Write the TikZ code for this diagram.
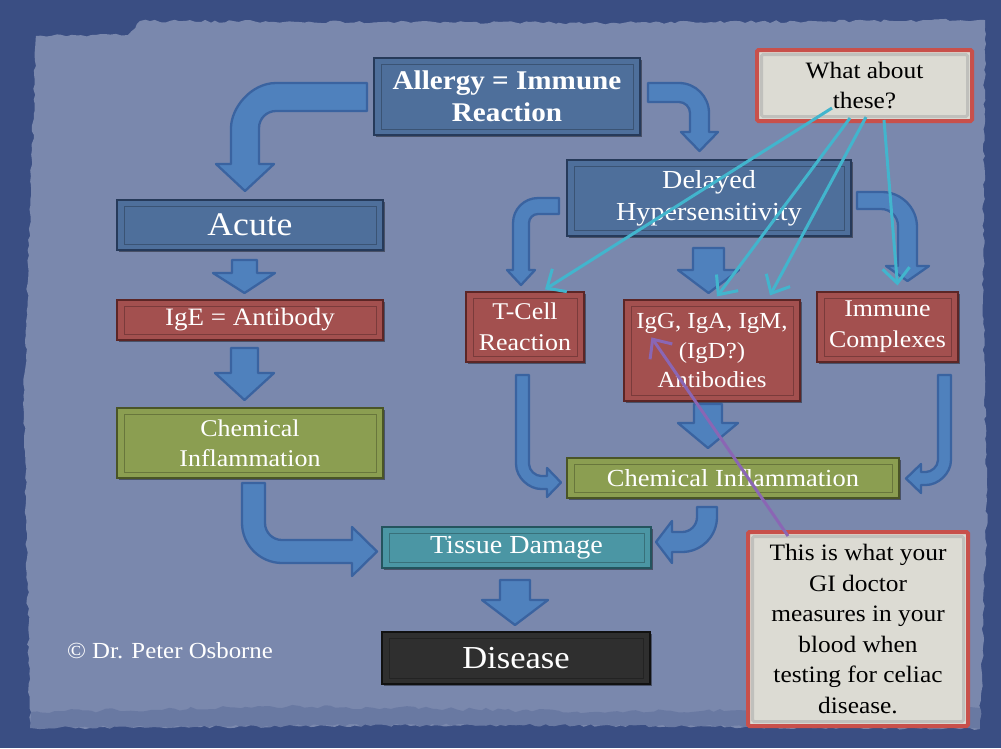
\documentclass[tikz,border=0pt]{standalone}
\usepackage{fontspec}
\setmainfont{Liberation Serif}[FakeStretch=1.08]
\usetikzlibrary{arrows.meta,shadows,decorations.pathmorphing}
\definecolor{bgOuter}{HTML}{3A4E83}
\definecolor{bgInner}{HTML}{7A88AD}
\definecolor{blueF}{HTML}{4E6F9B}
\definecolor{blueD}{HTML}{263A5A}
\definecolor{redF}{HTML}{A3504F}
\definecolor{redD}{HTML}{5C2626}
\definecolor{greenF}{HTML}{8B9E51}
\definecolor{greenD}{HTML}{4A5526}
\definecolor{tealF}{HTML}{4B96A4}
\definecolor{tealD}{HTML}{24545E}
\definecolor{darkF}{HTML}{2F2F2F}
\definecolor{darkD}{HTML}{111111}
\definecolor{arrowF}{HTML}{4F81BD}
\definecolor{arrowD}{HTML}{3A63A0}
\definecolor{cyanL}{HTML}{42B5CD}
\definecolor{purpleL}{HTML}{8A66B4}
\definecolor{calloutR}{HTML}{C8504B}
\definecolor{calloutF}{HTML}{DCDBD3}
\begin{document}
\begin{tikzpicture}[x=1pt,y=-1pt,
  boxbase/.style={rectangle, inner sep=0pt, text=white, align=center, line width=1.2pt,
    drop shadow={shadow xshift=2pt, shadow yshift=-2pt, opacity=0.4, fill=black},
    path picture={\draw[draw=black, opacity=0.25, line width=0.6pt]
      ([xshift=7pt,yshift=-6pt]path picture bounding box.north west) rectangle
      ([xshift=-7pt,yshift=6pt]path picture bounding box.south east);}},
  bluebox/.style={boxbase, fill=blueF, draw=blueD},
  redbox/.style={boxbase, fill=redF, draw=redD},
  greenbox/.style={boxbase, fill=greenF, draw=greenD},
  tealbox/.style={boxbase, fill=tealF, draw=tealD},
  darkbox/.style={boxbase, fill=darkF, draw=darkD},
  callout/.style={rectangle, inner sep=0pt, align=center, text=black, fill=calloutF,
    draw=calloutR, line width=4pt, rounded corners=1.5pt,
    path picture={\draw[draw=gray!70, opacity=0.5, line width=3pt]
      ([xshift=4.5pt,yshift=-4.5pt]path picture bounding box.north west) rectangle
      ([xshift=-4.5pt,yshift=4.5pt]path picture bounding box.south east);}},
  blockarrow/.style={fill=arrowF, draw=arrowD, line width=2.3pt, line join=round},
  cyanline/.style={draw=cyanL, line width=3pt, -{Straight Barb[length=15pt,width=27pt]}},
  purpleline/.style={draw=purpleL, line width=3pt, -{Straight Barb[length=15pt,width=27pt]}}
]
\useasboundingbox (0,0) rectangle (1001,748);
% background
\fill[bgOuter] (0,0) rectangle (1001,748);
\pgfmathsetseed{7}
\fill[bgInner, decorate, decoration={random steps, segment length=5pt, amplitude=1.4pt}]
  (36,36) -- (128,35) -- (140,21) -- (600,23) -- (985,20) -- (983,300) -- (987,500)
  -- (980,729) -- (500,725) -- (30,728) -- (24,400) -- (32,150) -- cycle;
\fill[bgOuter, opacity=0.25, decorate, decoration={random steps, segment length=6pt, amplitude=2pt}]
  (30,712) -- (300,706) -- (600,712) -- (980,708) -- (980,729) -- (500,725) -- (30,728) -- cycle;

% block arrows
% A: allergy -> acute
\path[blockarrow] (367,83) -- (276,83) .. controls (251,83) and (231,108) .. (231,128)
  -- (231,164) -- (216,164) -- (245,191) -- (274,164) -- (259,164) -- (259,128)
  .. controls (259,118.6) and (266.6,111) .. (276,111) -- (367,111) -- cycle;
% B: allergy -> delayed
\path[blockarrow] (648,83) -- (679,83) .. controls (695.5,83) and (709,96.5) .. (709,113)
  -- (709,132) -- (718,132) -- (699.5,151) -- (681,132) -- (690,132) -- (690,113)
  .. controls (690,107) and (685,102) .. (679,102) -- (648,102) -- cycle;
% C: delayed -> tcell
\path[blockarrow] (559,198) -- (538,198) .. controls (524.2,198) and (513,209.2) .. (513,223)
  -- (513,270) -- (507,270) -- (521,285) -- (535,270) -- (529,270) -- (529,223)
  .. controls (529,218) and (533,214) .. (538,214) -- (559,214) -- cycle;
% D: delayed -> igg
\path[blockarrow] (693,248) -- (724,248) -- (724,270) -- (739,270) -- (708.5,293)
  -- (678,270) -- (693,270) -- cycle;
% E: delayed -> immune
\path[blockarrow] (857,192) -- (882,192) .. controls (901.3,192) and (917,207.7) .. (917,227)
  -- (917,266) -- (929,266) -- (907.5,281) -- (886,266) -- (898,266) -- (898,226)
  .. controls (898,216.6) and (890.4,209) .. (881,209) -- (857,209) -- cycle;
% F: acute -> ige
\path[blockarrow] (232,260) -- (257,260) -- (257,273) -- (275,273) -- (244.5,293)
  -- (213,273) -- (232,273) -- cycle;
% G: ige -> chemL
\path[blockarrow] (231,348) -- (258,348) -- (258,373) -- (274,373) -- (244.5,400)
  -- (215,373) -- (231,373) -- cycle;
% H: chemL -> tissue
\path[blockarrow] (242,483) -- (242,523) .. controls (242,545) and (260,563) .. (282,563)
  -- (352,563) -- (352,576) -- (377,551.5) -- (352,527) -- (352,540) -- (282,540)
  .. controls (272.6,540) and (265,532.4) .. (265,523) -- (265,483) -- cycle;
% I: tcell -> chemR
\path[blockarrow] (516,375) -- (516,464) .. controls (516,477.8) and (529.2,489) .. (541,489)
  -- (547,489) -- (547,497) -- (561,482.5) -- (547,468) -- (547,476) -- (541,476)
  .. controls (535.6,476) and (529,470.6) .. (529,464) -- (529,375) -- cycle;
% J: immune -> chemR
\path[blockarrow] (951,375) -- (951,460) .. controls (951,473.8) and (937.8,485) .. (926,485)
  -- (921,485) -- (921,493) -- (906,478.5) -- (921,464) -- (921,472) -- (926,472)
  .. controls (931.4,472) and (938,466.6) .. (938,460) -- (938,375) -- cycle;
% K: igg -> chemR
\path[blockarrow] (694,404) -- (722,404) -- (722,423) -- (738,423) -- (708,448)
  -- (678,423) -- (694,423) -- cycle;
% L: chemR -> tissue
\path[blockarrow] (717,507) -- (717,517) .. controls (717,536.3) and (701.3,552) .. (682,552)
  -- (672,552) -- (672,563) -- (656,542) -- (672,521) -- (672,532) -- (682,532)
  .. controls (690.3,532) and (697,525.3) .. (697,517) -- (697,507) -- cycle;
% M: tissue -> disease
\path[blockarrow] (500,580) -- (530,580) -- (530,600) -- (548,600) -- (515,625)
  -- (482,600) -- (500,600) -- cycle;

% boxes
\node[bluebox, minimum width=266pt, minimum height=77pt,
  font=\fontsize{27}{32}\selectfont\bfseries] (allergy) at (507,96.5) {Allergy = Immune\\Reaction};
\node[bluebox, minimum width=266pt, minimum height=50pt,
  font=\fontsize{33}{38}\selectfont] (acute) at (250,225) {Acute};
\node[bluebox, minimum width=284pt, minimum height=76pt,
  font=\fontsize{26}{32}\selectfont] (delayed) at (709,198) {Delayed\\Hypersensitivity};
\node[redbox, minimum width=266pt, minimum height=40pt,
  font=\fontsize{25}{30}\selectfont] (ige) at (250,320) {IgE = Antibody};
\node[greenbox, minimum width=266pt, minimum height=70pt,
  font=\fontsize{24}{30}\selectfont] (chemL) at (250,443) {Chemical\\Inflammation};
\node[redbox, minimum width=118pt, minimum height=70pt,
  font=\fontsize{24}{31}\selectfont] (tcell) at (525,327) {T-Cell\\Reaction};
\node[redbox, minimum width=176pt, minimum height=101pt,
  font=\fontsize{23}{29.5}\selectfont] (igg) at (712,350.5) {IgG, IgA, IgM,\\(IgD?)\\Antibodies};
\node[redbox, minimum width=141pt, minimum height=70pt,
  font=\fontsize{24}{31}\selectfont] (immune) at (887.5,327) {Immune\\Complexes};
\node[greenbox, minimum width=332pt, minimum height=40pt,
  font=\fontsize{24.5}{30}\selectfont] (chemR) at (733,478) {Chemical Inflammation};
\node[tealbox, minimum width=269pt, minimum height=41pt,
  font=\fontsize{26}{30}\selectfont] (tissue) at (516.5,547.5) {Tissue Damage};
\node[darkbox, minimum width=268pt, minimum height=52pt,
  font=\fontsize{32}{36}\selectfont] (disease) at (516,658) {Disease};

\node[callout, minimum width=215pt, minimum height=71pt,
  font=\fontsize{23.5}{30}\selectfont] (what) at (864.5,85.5) {What about\\these?};
\node[callout, minimum width=220pt, minimum height=194pt,
  font=\fontsize{23.5}{30.5}\selectfont] (this) at (858,629)
  {This is what your\\GI doctor\\measures in your\\blood when\\testing for celiac\\disease.};

\node[text=white, font=\fontsize{23}{28}\selectfont] (copy) at (170,651) {© Dr. Peter Osborne};

% connectors
\coordinate (w1) at (832,108);
\coordinate (w2) at (850,118);
\coordinate (w3) at (866,117);
\coordinate (w4) at (884,120);
\draw[cyanline] (w1) -- ([xshift=20pt,yshift=2pt]tcell.north);
\draw[cyanline] (w2) -- ([xshift=5pt,yshift=3pt]igg.north);
\draw[cyanline] (w3) -- ([xshift=58pt,yshift=4pt]igg.north);
\draw[cyanline] (w4) -- ([xshift=10pt,yshift=6pt]immune.north);
\draw[purpleline] ([xshift=42pt,yshift=-6pt]this.north west) -- ([xshift=28pt,yshift=-38pt]igg.north west);
\end{tikzpicture}
\end{document}
